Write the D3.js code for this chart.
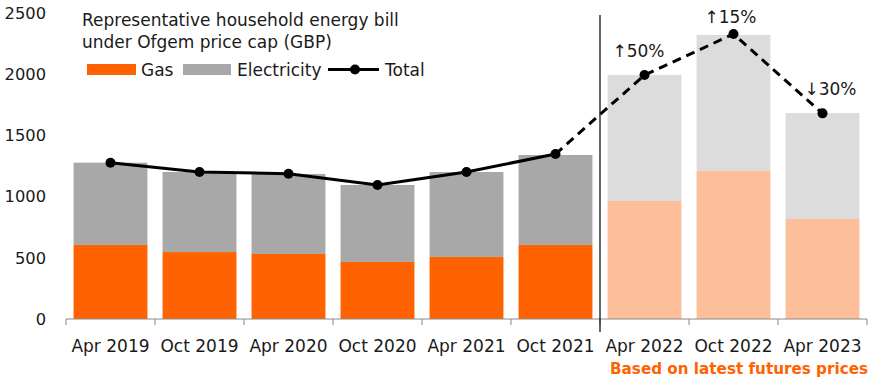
<!DOCTYPE html>
<html><head><meta charset="utf-8">
<script src="https://cdn.jsdelivr.net/npm/d3@7"></script>
<style>body{margin:0;background:#fff}svg{display:block}text{font-family:"DejaVu Sans",sans-serif}</style>
</head><body>
<svg id="c" width="878" height="382"></svg>
<script>
const categories = ["Apr 2019","Oct 2019","Apr 2020","Oct 2020","Apr 2021","Oct 2021","Apr 2022","Oct 2022","Apr 2023"];
const gas = [605, 547, 531, 466, 507, 605, 964, 1209, 817];
const electricity = [672, 654, 654, 629, 694, 735, 1029, 1111, 866];
const total = [1277, 1201, 1187, 1095, 1201, 1348, 1993, 2328, 1680];
const forecast = [false,false,false,false,false,false,true,true,true];
const changeLabels = [null,null,null,null,null,null,"↑50%","↑15%","↓30%"];
const yTicks = [0, 500, 1000, 1500, 2000, 2500];

const svg = d3.select("#c");
const x = d3.scaleBand().domain(categories).range([66, 867]).paddingInner(0.17).paddingOuter(0.085);
const y = d3.scaleLinear().domain([0, 2500]).range([319, 13]);

const colGas = "#FF6200", colEl = "#A8A8A8", colGasF = "#FDBF99", colElF = "#DCDCDC";
const txt = "#1a1a1a";

// bars
const g = svg.append("g");
categories.forEach((c, i) => {
  g.append("rect").attr("x", x(c)).attr("width", x.bandwidth())
    .attr("y", y(gas[i])).attr("height", y(0) - y(gas[i]))
    .attr("fill", forecast[i] ? colGasF : colGas);
  g.append("rect").attr("x", x(c)).attr("width", x.bandwidth())
    .attr("y", y(gas[i] + electricity[i])).attr("height", y(gas[i]) - y(gas[i] + electricity[i]))
    .attr("fill", forecast[i] ? colElF : colEl);
});

// y axis labels
svg.append("g").selectAll("text").data(yTicks).join("text")
  .attr("x", 46).attr("y", d => y(d)).attr("dy", "0.36em").attr("text-anchor", "end")
  .attr("font-size", 16.3).attr("fill", txt).text(d => d);

// x axis
const edges = d3.range(categories.length + 1).map(i => 66 + i * (801 / categories.length));
svg.append("line").attr("x1", 66).attr("x2", 867).attr("y1", y(0)).attr("y2", y(0)).attr("stroke", "#888").attr("stroke-width", 1);
svg.append("g").selectAll("line").data(edges).join("line")
  .attr("x1", d => d).attr("x2", d => d).attr("y1", y(0)).attr("y2", y(0) + 6).attr("stroke", "#888");
svg.append("g").selectAll("text").data(categories).join("text")
  .attr("x", d => x(d) + x.bandwidth() / 2).attr("y", 352).attr("text-anchor", "middle")
  .attr("font-size", 17).attr("fill", txt).text(d => d);

// divider
const divX = (x(categories[5]) + x.bandwidth() + x(categories[6])) / 2;
svg.append("line").attr("x1", divX).attr("x2", divX).attr("y1", 15).attr("y2", 332).attr("stroke", "#000").attr("stroke-width", 1.2);

// total line
const cx = i => x(categories[i]) + x.bandwidth() / 2;
const line = d3.line().x(d => cx(d)).y(d => y(total[d]));
svg.append("path").attr("d", line(d3.range(0, 6))).attr("fill", "none").attr("stroke", "#000").attr("stroke-width", 3);
svg.append("path").attr("d", line(d3.range(5, 9))).attr("fill", "none").attr("stroke", "#000").attr("stroke-width", 3).attr("stroke-dasharray", "9,6");
svg.append("g").selectAll("circle").data(d3.range(9)).join("circle")
  .attr("cx", d => cx(d)).attr("cy", d => y(total[d])).attr("r", 5).attr("fill", "#000");

// change labels
const lblDx = {6: -6, 7: -3, 8: 8};
svg.append("g").selectAll("text").data(d3.range(9).filter(i => changeLabels[i])).join("text")
  .attr("x", d => cx(d) + lblDx[d]).attr("y", d => y(total[d]) - (d === 7 ? 11 : 18))
  .attr("text-anchor", "middle").attr("font-size", 17).attr("fill", txt).text(d => changeLabels[d]);

// title
svg.append("text").attr("x", 82).attr("y", 26).attr("font-size", 17).attr("fill", txt).text("Representative household energy bill");
svg.append("text").attr("x", 82).attr("y", 48).attr("font-size", 17).attr("fill", txt).text("under Ofgem price cap (GBP)");

// legend
const lg = svg.append("g");
lg.append("rect").attr("x", 87).attr("y", 64).attr("width", 49).attr("height", 11).attr("fill", colGas);
lg.append("text").attr("x", 141).attr("y", 76).attr("font-size", 17).attr("fill", txt).text("Gas");
lg.append("rect").attr("x", 183).attr("y", 64).attr("width", 48).attr("height", 11).attr("fill", colEl);
lg.append("text").attr("x", 237).attr("y", 76).attr("font-size", 17).attr("fill", txt).text("Electricity");
lg.append("line").attr("x1", 328).attr("x2", 379).attr("y1", 69.5).attr("y2", 69.5).attr("stroke", "#000").attr("stroke-width", 3);
lg.append("circle").attr("cx", 355).attr("cy", 69.5).attr("r", 5).attr("fill", "#000");
lg.append("text").attr("x", 385).attr("y", 76).attr("font-size", 17).attr("fill", txt).text("Total");

// footnote
svg.append("text").attr("x", 868).attr("y", 374).attr("text-anchor", "end").attr("font-size", 15.2)
  .attr("font-weight", "bold").attr("fill", colGas).text("Based on latest futures prices");
</script>
</body></html>
